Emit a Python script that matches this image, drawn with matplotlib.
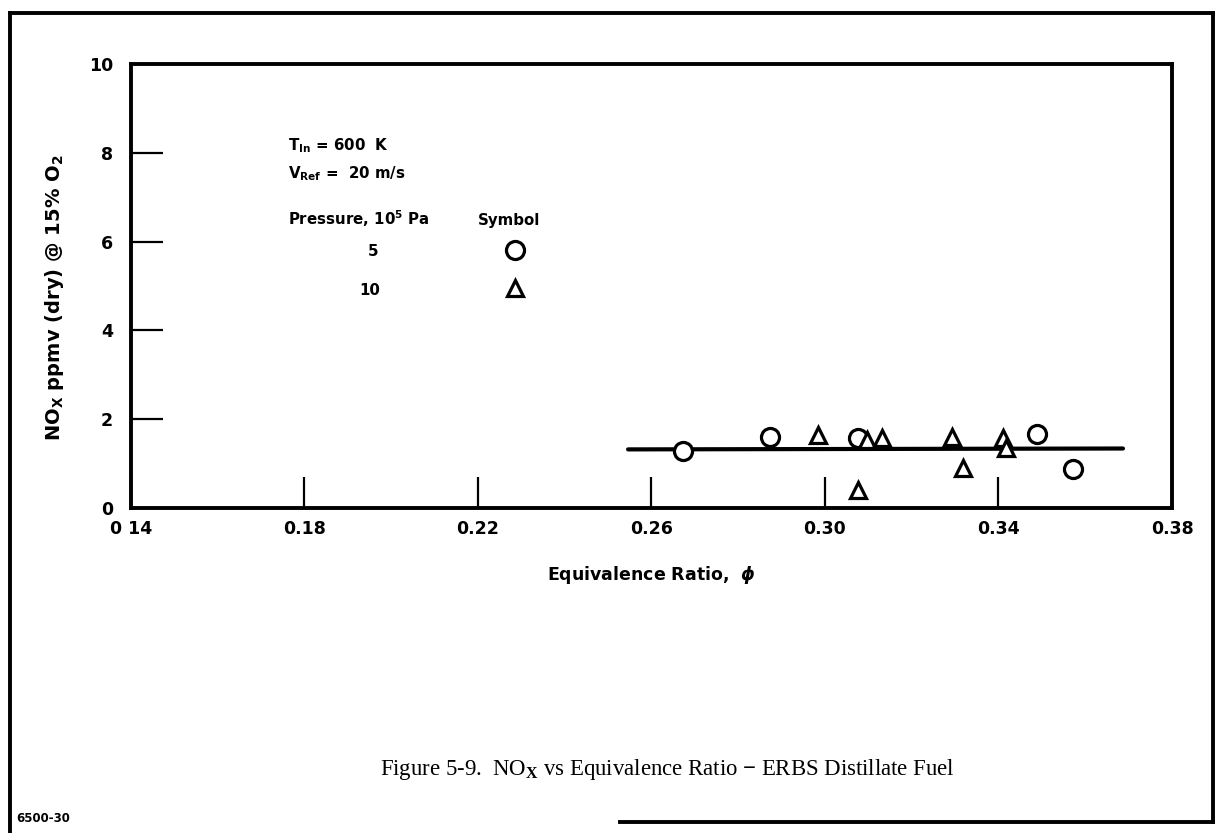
import matplotlib

matplotlib.use("Agg")
import matplotlib.pyplot as plt
from matplotlib.lines import Line2D

# data
circle_phi = [0.2672, 0.2873, 0.3076, 0.3489, 0.3571]
circle_nox = [1.28, 1.60, 1.57, 1.66, 0.88]

tri_phi = [0.2984, 0.3097, 0.3131, 0.3292, 0.3410, 0.3417, 0.3318, 0.3076]
tri_nox = [1.65, 1.53, 1.57, 1.59, 1.58, 1.35, 0.89, 0.40]

fit_phi = [0.2546, 0.3687]
fit_nox = [1.32, 1.34]

xticks = [0.14, 0.18, 0.22, 0.26, 0.30, 0.34, 0.38]
xticklabels = ["0 14", "0.18", "0.22", "0.26", "0.30", "0.34", "0.38"]
yticks = [0, 2, 4, 6, 8, 10]

plt.rcParams["font.family"] = "DejaVu Sans"
plt.rcParams["font.weight"] = "bold"
plt.rcParams["mathtext.fontset"] = "custom"
plt.rcParams["mathtext.rm"] = "Liberation Serif"
plt.rcParams["mathtext.bf"] = "DejaVu Sans:bold"
plt.rcParams["mathtext.it"] = "DejaVu Sans:italic:bold"

W, H = 1220, 833
fig = plt.figure(figsize=(W / 100, H / 100), dpi=100)
ax = fig.add_axes([131 / W, 1 - 508 / H, 1041 / W, 444 / H])

mk = dict(ms=13, mfc="white", mec="black", mew=2.3, ls="none", zorder=3)
ax.plot(fit_phi, fit_nox, color="black", lw=3, solid_capstyle="round", zorder=2)
ax.plot(circle_phi, circle_nox, marker="o", **mk)
ax.plot(tri_phi, tri_nox, marker="^", **dict(mk, ms=12))

ax.set_xlim(0.14, 0.38)
ax.set_ylim(0, 10)
ax.set_xticks(xticks)
ax.set_xticklabels(xticklabels)
ax.set_yticks(yticks)
for s in ax.spines.values():
    s.set_linewidth(2.8)
ax.tick_params(axis="x", direction="in", length=22, width=1.6, pad=9, labelsize=12.5)
ax.tick_params(axis="y", direction="in", length=23, width=1.6, pad=13, labelsize=12.5)

ax.set_xlabel(r"Equivalence Ratio,  $\phi$", fontsize=12.5, fontweight="bold", labelpad=18)
fig.text(54 / W, 1 - 298 / H, r"NO$_{\mathbf{X}}$ ppmv (dry) @ 15% O$_{\mathbf{2}}$",
         rotation=90, ha="center", va="center", fontsize=14)

# in-plot key
fs = 10.8
ax.text(0.151, 0.806, r"T$_{\mathbf{In}}$ = 600  K", transform=ax.transAxes, fontsize=fs)
ax.text(0.151, 0.743, r"V$_{\mathbf{Ref}}$ =  20 m/s", transform=ax.transAxes, fontsize=fs)
ax.text(0.151, 0.637, r"Pressure, 10$^{\mathbf{5}}$ Pa", transform=ax.transAxes, fontsize=fs)
ax.text(0.333, 0.637, "Symbol", transform=ax.transAxes, fontsize=fs)
ax.text(0.2325, 0.577, "5", transform=ax.transAxes, fontsize=fs, ha="center", va="center")
ax.text(0.229, 0.489, "10", transform=ax.transAxes, fontsize=fs, ha="center", va="center")
ax.plot([0.369], [0.581], marker="o", transform=ax.transAxes, clip_on=False, **mk)
ax.plot([0.369], [0.495], marker="^", transform=ax.transAxes, clip_on=False, **dict(mk, ms=12))

# page frame
tf = fig.transFigure
for xs, ys in [([10, 10], [13, 833]), ([10, 1213], [13, 13]),
               ([1213, 1213], [13, 822]), ([620, 1213], [822, 822])]:
    fig.add_artist(Line2D([x / W for x in xs], [1 - y / H for y in ys],
                          transform=tf, color="black", lw=2.8))

fig.text(667 / W, 1 - 770 / H,
         r"Figure 5-9.  NO$_{\mathrm{X}}$ vs Equivalence Ratio $-$ ERBS Distillate Fuel",
         family="Liberation Serif", fontweight="normal", fontsize=16.4, ha="center", va="center")
fig.text(16 / W, 1 - 818 / H, "6500-30", fontsize=8.5, va="center")

fig.savefig("out.png", dpi=100)
